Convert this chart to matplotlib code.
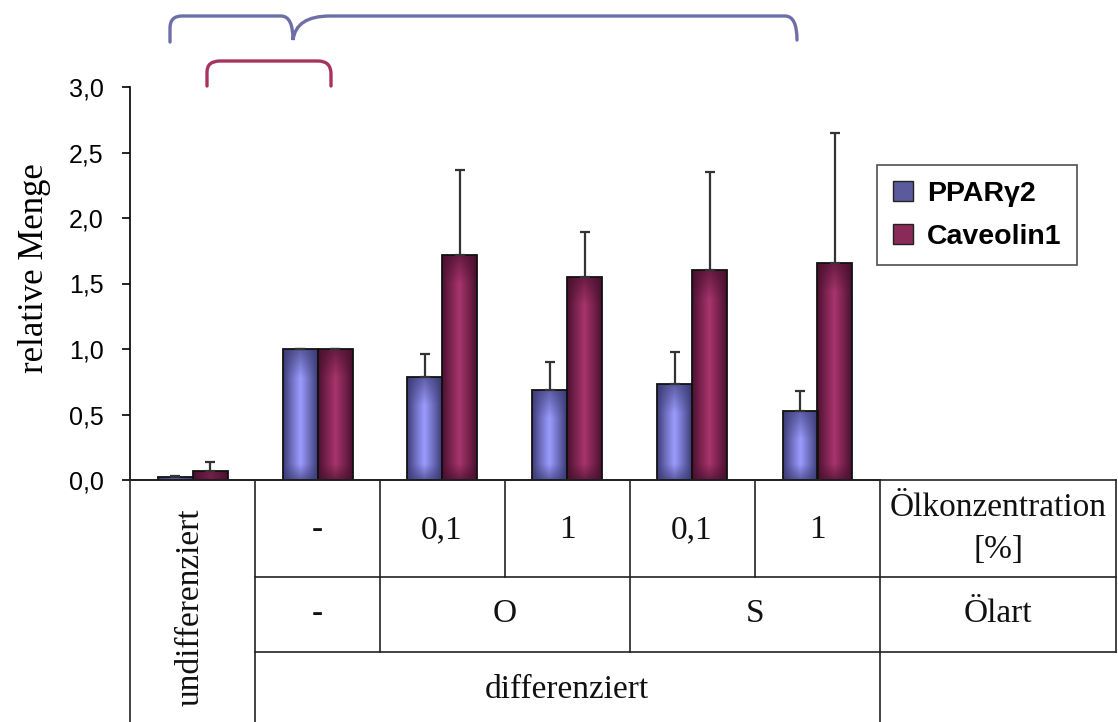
import matplotlib.pyplot as plt
from matplotlib.patches import Patch, Rectangle
from matplotlib.path import Path
from matplotlib.patches import PathPatch
import matplotlib.colors as mcolors
import numpy as np

# Daten
series = ['PPARγ2', 'Caveolin1']
pparg = [0.02, 1.00, 0.79, 0.69, 0.73, 0.53]
pparg_err = [0.01, 0.0, 0.17, 0.21, 0.25, 0.15]
cav = [0.07, 1.00, 1.72, 1.55, 1.60, 1.66]
cav_err = [0.07, 0.0, 0.65, 0.34, 0.75, 0.99]

yticks = [0.0, 0.5, 1.0, 1.5, 2.0, 2.5, 3.0]
ytick_labels = ['0,0', '0,5', '1,0', '1,5', '2,0', '2,5', '3,0']

# Tabelle unter der Grafik
conc_labels = ['-', '0,1', '1', '0,1', '1']
oil_labels = ['-', 'O', 'S']
state_labels = ['undifferenziert', 'differenziert']
row_titles = ['Ölkonzentration\n[%]', 'Ölart']

SANS = 'Liberation Sans'
SERIF = 'Liberation Serif'

fig = plt.figure(figsize=(11.18, 7.22), dpi=100)
W, H = 1118, 722
ax = fig.add_axes([130 / W, 1 - 480 / H, 750 / W, 393 / H])

x = np.arange(len(pparg))
bw = 0.28


def gradient_bars(ax, bars, c_edge, c_mid):
    e = np.array(mcolors.to_rgb(c_edge))
    m = np.array(mcolors.to_rgb(c_mid))
    for b in bars:
        x0, y0 = b.get_xy()
        w, h = b.get_width(), b.get_height()
        if h <= 0:
            continue
        xs = np.linspace(0, 1, 80)
        th = (1 - np.abs(xs - 0.5) * 2) ** 0.9
        ys = np.linspace(y0, y0 + h, 120)
        tv = np.minimum(np.clip((y0 + h - ys) / 0.22, 0, 1), np.clip((ys - y0) / 0.12, 0, 1))
        tv = 0.35 + 0.65 * tv
        t = th[None, :] * tv[:, None]
        img = e + (m - e) * t[..., None]
        im = ax.imshow(img, origin='lower', extent=(x0, x0 + w, y0, y0 + h),
                       aspect='auto', interpolation='bicubic', zorder=2)
        im.set_clip_path(b)
        ax.add_patch(Rectangle((x0, y0), w, h, fill=False, edgecolor='#111111',
                               linewidth=1.3, zorder=3))


b1 = ax.bar(x - bw / 2, pparg, bw, color='#40407a', linewidth=0, zorder=1)
b2 = ax.bar(x + bw / 2, cav, bw, color='#4e1232', linewidth=0, zorder=1)
gradient_bars(ax, b1, '#3a3a74', '#9c9cff')
gradient_bars(ax, b2, '#480f2e', '#a8356c')

ax.errorbar(x - bw / 2, pparg, yerr=[np.zeros(len(pparg)), pparg_err], fmt='none',
            ecolor='#333333', elinewidth=1.6, capsize=3.5, capthick=1.6, zorder=4)
ax.errorbar(x + bw / 2, cav, yerr=[np.zeros(len(cav)), cav_err], fmt='none',
            ecolor='#333333', elinewidth=1.6, capsize=3.5, capthick=1.6, zorder=4)

ax.set_xlim(-0.5, len(pparg) - 0.5)
ax.set_ylim(0, 3.0)
ax.set_yticks(yticks)
ax.set_yticklabels(ytick_labels, family=SANS, fontsize=18)
ax.set_xticks([])
ax.tick_params(axis='y', direction='out', length=6, width=1.2, pad=13)
for s in ['top', 'right']:
    ax.spines[s].set_visible(False)
ax.spines['left'].set_linewidth(1.2)
ax.spines['bottom'].set_linewidth(1.2)
ax.patch.set_alpha(0)

ax.set_ylabel('relative Menge', family=SERIF, fontsize=25, va='center')
ax.yaxis.set_label_coords(-0.127, 0.54)

handles = [Patch(facecolor='#5a5a9c', edgecolor='#222222'),
           Patch(facecolor='#8a2a58', edgecolor='#222222')]
leg = ax.legend(handles, series, loc='upper left', bbox_to_anchor=(877 / W, 1 - 165 / H),
                bbox_transform=fig.transFigure, borderaxespad=0, fancybox=False,
                edgecolor='#222222', handlelength=0.7, handleheight=0.7,
                handletextpad=0.5, labelspacing=0.6, borderpad=0.55,
                prop={'family': SANS, 'weight': 'bold', 'size': 20.5})
leg.get_frame().set_linewidth(1.2)

# Overlay in Pixelkoordinaten fuer Tabelle und Klammern
ov = fig.add_axes([0, 0, 1, 1])
ov.set_xlim(0, W)
ov.set_ylim(H, 0)
ov.axis('off')
ov.patch.set_alpha(0)

lc = '#222222'
lw = 1.2
hlines = [(480, 130, 1116), (577, 255, 1116), (652, 255, 1116)]
vlines = [(130, 480, 722), (255, 480, 722), (380, 480, 652), (505, 480, 577),
          (630, 480, 652), (755, 480, 577), (880, 480, 722), (1116, 480, 652)]
for yy, xa, xb in hlines:
    ov.plot([xa, xb], [yy, yy], color=lc, lw=lw)
for xx, ya, yb in vlines:
    ov.plot([xx, xx], [ya, yb], color=lc, lw=lw)

tk = dict(family=SERIF, fontsize=24, ha='center', va='center', color='#111111')
for i, lab in enumerate(conc_labels):
    ov.text(317 + 125 * i, 530, lab, **tk)
ov.text(998, 529, row_titles[0], linespacing=1.5, **tk)
ov.text(317, 614, oil_labels[0], **tk)
ov.text(505, 614, oil_labels[1], **tk)
ov.text(755, 614, oil_labels[2], **tk)
ov.text(998, 614, row_titles[1], **tk)
ov.text(567, 690, state_labels[1], **tk)
ov.text(190, 607, state_labels[0], rotation=90, **tk)

# Klammern oben
blue_brace = [(170, 42), (170, 28), (170, 16), (182, 16), (281, 16), (293, 16), (293, 40),
              (296, 16), (330, 16), (785, 16), (797, 16), (797, 40)]
blue_codes = [Path.MOVETO, Path.LINETO, Path.CURVE3, Path.CURVE3, Path.LINETO,
              Path.CURVE3, Path.CURVE3, Path.CURVE3, Path.CURVE3, Path.LINETO,
              Path.CURVE3, Path.CURVE3]
ov.add_patch(PathPatch(Path(blue_brace, blue_codes), fill=False, edgecolor='#6e6ea8', lw=2.4,
                       capstyle='round'))
red_brace = [(207, 86), (207, 72), (207, 61), (220, 61), (318, 61), (331, 61), (331, 74), (331, 86)]
red_codes = [Path.MOVETO, Path.LINETO, Path.CURVE3, Path.CURVE3, Path.LINETO,
             Path.CURVE3, Path.CURVE3, Path.LINETO]
ov.add_patch(PathPatch(Path(red_brace, red_codes), fill=False, edgecolor='#a8335f', lw=2.4,
                       capstyle='round'))

fig.savefig('out.png', dpi=100)
